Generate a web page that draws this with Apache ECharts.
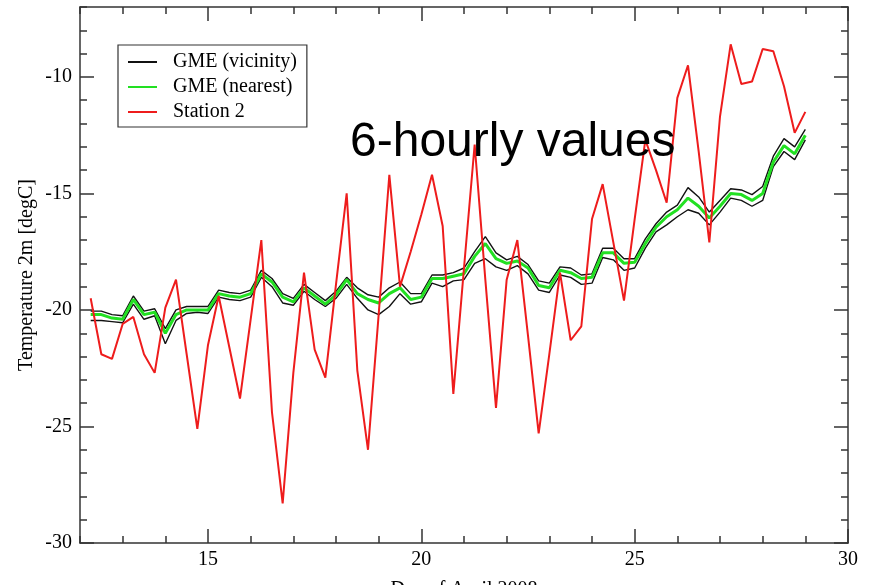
<!DOCTYPE html>
<html><head><meta charset="utf-8">
<script src="https://cdn.jsdelivr.net/npm/echarts@6/dist/echarts.min.js"></script>
<style>html,body{margin:0;padding:0;background:#fff}#c{width:878px;height:585px}</style>
</head><body><div id="c"></div>
<script>
// 6-hourly time steps (day of April 2008)
const days = [12.25,12.5,12.75,13.0,13.25,13.5,13.75,14.0,14.25,14.5,14.75,15.0,15.25,15.5,15.75,16.0,
  16.25,16.5,16.75,17.0,17.25,17.5,17.75,18.0,18.25,18.5,18.75,19.0,19.25,19.5,19.75,20.0,
  20.25,20.5,20.75,21.0,21.25,21.5,21.75,22.0,22.25,22.5,22.75,23.0,23.25,23.5,23.75,24.0,
  24.25,24.5,24.75,25.0,25.25,25.5,25.75,26.0,26.25,26.5,26.75,27.0,27.25,27.5,27.75,28.0,
  28.25,28.5,28.75,29.0];
const station2 = [-19.5,-21.9,-22.1,-20.6,-20.3,-21.9,-22.7,-19.9,-18.7,-21.9,-25.1,-21.5,-19.4,-21.6,-23.8,-20.4,
  -17.0,-24.4,-28.3,-22.7,-18.4,-21.7,-22.9,-18.9,-15.0,-22.6,-26.0,-20.2,-14.2,-19.0,-17.5,-15.9,
  -14.2,-16.4,-23.6,-18.2,-12.9,-18.7,-24.2,-18.7,-17.0,-21.1,-25.3,-21.9,-18.4,-21.3,-20.7,-16.1,
  -14.6,-17.1,-19.6,-16.1,-12.7,-14.0,-15.4,-10.9,-9.5,-13.2,-17.1,-11.7,-8.6,-10.3,-10.2,-8.8,
  -8.9,-10.4,-12.4,-11.5];
const gmeNearest = [-20.2,-20.2,-20.35,-20.4,-19.55,-20.2,-20.1,-21.0,-20.2,-20.0,-20.0,-20.0,-19.3,-19.4,-19.45,-19.3,
  -18.45,-18.8,-19.45,-19.65,-19.05,-19.4,-19.75,-19.35,-18.7,-19.3,-19.55,-19.7,-19.3,-19.05,-19.55,-19.45,
  -18.65,-18.65,-18.55,-18.45,-17.7,-17.15,-17.8,-18.0,-17.9,-18.2,-18.95,-19.05,-18.3,-18.4,-18.65,-18.6,
  -17.55,-17.55,-18.0,-17.95,-17.15,-16.45,-16.0,-15.7,-15.2,-15.55,-16.05,-15.55,-15.0,-15.05,-15.3,-15.0,
  -13.65,-12.95,-13.3,-12.5];
const gmeVicinityUpper = [-20.05,-20.05,-20.2,-20.25,-19.4,-20.05,-19.95,-20.8,-20.0,-19.85,-19.85,-19.85,-19.15,-19.25,-19.3,-19.15,
  -18.3,-18.65,-19.3,-19.5,-18.9,-19.25,-19.6,-19.2,-18.6,-19.05,-19.35,-19.45,-19.05,-18.8,-19.3,-19.3,
  -18.5,-18.5,-18.4,-18.2,-17.5,-16.85,-17.55,-17.85,-17.7,-18.05,-18.75,-18.85,-18.15,-18.2,-18.5,-18.45,
  -17.35,-17.35,-17.8,-17.8,-16.95,-16.3,-15.8,-15.5,-14.75,-15.15,-15.8,-15.3,-14.8,-14.85,-15.05,-14.7,
  -13.4,-12.65,-13.0,-12.25];
const gmeVicinityLower = [-20.45,-20.45,-20.5,-20.55,-19.75,-20.4,-20.25,-21.45,-20.45,-20.15,-20.1,-20.15,-19.45,-19.55,-19.6,-19.45,
  -18.6,-19.0,-19.7,-19.8,-19.2,-19.55,-19.85,-19.5,-18.9,-19.5,-20.0,-20.2,-19.85,-19.3,-19.75,-19.65,
  -18.85,-19.0,-18.75,-18.7,-18.0,-17.8,-18.15,-18.3,-18.1,-18.45,-19.15,-19.25,-18.5,-18.6,-18.9,-18.85,
  -17.75,-17.85,-18.3,-18.2,-17.35,-16.65,-16.35,-16.0,-15.7,-15.85,-16.35,-15.8,-15.2,-15.3,-15.55,-15.3,
  -13.85,-13.2,-13.55,-12.7];
const xMajorTicks = [15, 20, 25, 30];
const yMajorTicks = [-30, -25, -20, -15, -10];
const legendNames = ['GME (vicinity)', 'GME (nearest)', 'Station 2'];
const titleText = '6-hourly values';
const xName = 'Day of April 2008';
const yName = 'Temperature 2m [degC]';

const AX = '#333';
const serif = 'Liberation Serif';
const pair = arr => days.map((d, i) => [d, arr[i]]);
const lineSt = {color: AX, width: 1.5};
function xAx(pos, major, extra) {
  return Object.assign({
    type: 'value', position: pos, min: 12, max: 30,
    axisLine: {show: !major, lineStyle: lineSt},
    axisTick: major ? {show: true, inside: true, length: 14, customValues: xMajorTicks, lineStyle: lineSt}
                    : {show: true, inside: true, length: 7, lineStyle: lineSt},
    axisLabel: {show: false},
    splitLine: {show: false}
  }, major ? {} : {interval: 1}, extra || {});
}
function yAx(pos, major, extra) {
  return Object.assign({
    type: 'value', position: pos, min: -30, max: -7,
    axisLine: {show: !major, lineStyle: lineSt},
    axisTick: major ? {show: true, inside: true, length: 14, customValues: yMajorTicks, lineStyle: lineSt}
                    : {show: true, inside: true, length: 7, lineStyle: lineSt},
    axisLabel: {show: false},
    splitLine: {show: false}
  }, major ? {} : {interval: 1}, extra || {});
}
const chart = echarts.init(document.getElementById('c'), null, {renderer: 'canvas'});
chart.setOption({
  animation: false,
  backgroundColor: '#fff',
  title: {text: titleText, left: 350, top: 119, padding: 0,
    textStyle: {fontFamily: 'Liberation Sans', fontSize: 48, fontWeight: 'normal', color: '#000'}},
  legend: {
    data: legendNames, orient: 'vertical', left: 118, top: 45,
    padding: [7, 10, 5, 10], itemGap: 5, itemWidth: 29, itemHeight: 2, icon: 'rect',
    borderColor: '#333', borderWidth: 1.2,
    textStyle: {fontFamily: serif, fontSize: 20, color: '#000', padding: [0, 0, 0, 11]}
  },
  grid: {left: 80, right: 30, top: 7, bottom: 42, containLabel: false, outerBoundsMode: 'none'},
  xAxis: [
    xAx('bottom', false, {name: xName, nameLocation: 'middle', nameGap: 37,
      nameTextStyle: {fontFamily: serif, fontSize: 20, color: '#000'}}),
    xAx('bottom', true, {axisLabel: {show: true, customValues: xMajorTicks, margin: 7,
      fontFamily: serif, fontSize: 20, color: '#000'}}),
    xAx('top', false),
    xAx('top', true)
  ],
  yAxis: [
    yAx('left', false, {name: yName, nameLocation: 'middle', nameGap: 43, nameRotate: 90,
      nameTextStyle: {fontFamily: serif, fontSize: 20, color: '#000'}}),
    yAx('left', true, {axisLabel: {show: true, customValues: yMajorTicks, margin: 8,
      fontFamily: serif, fontSize: 20, color: '#000'}}),
    yAx('right', false),
    yAx('right', true)
  ],
  series: [
    {name: legendNames[0], type: 'line', data: pair(gmeVicinityUpper), symbol: 'none', showSymbol: false,
      lineStyle: {color: '#111', width: 1.4}, itemStyle: {color: '#111'}, z: 2},
    {name: legendNames[0], type: 'line', data: pair(gmeVicinityLower), symbol: 'none', showSymbol: false,
      lineStyle: {color: '#111', width: 1.4}, itemStyle: {color: '#111'}, z: 2},
    {name: legendNames[1], type: 'line', data: pair(gmeNearest), symbol: 'none', showSymbol: false,
      lineStyle: {color: '#22e022', width: 3}, itemStyle: {color: '#22e022'}, z: 3},
    {name: legendNames[2], type: 'line', data: pair(station2), symbol: 'none', showSymbol: false,
      lineStyle: {color: '#ee1c1c', width: 2}, itemStyle: {color: '#ee1c1c'}, z: 4}
  ]
});
</script></body></html>
